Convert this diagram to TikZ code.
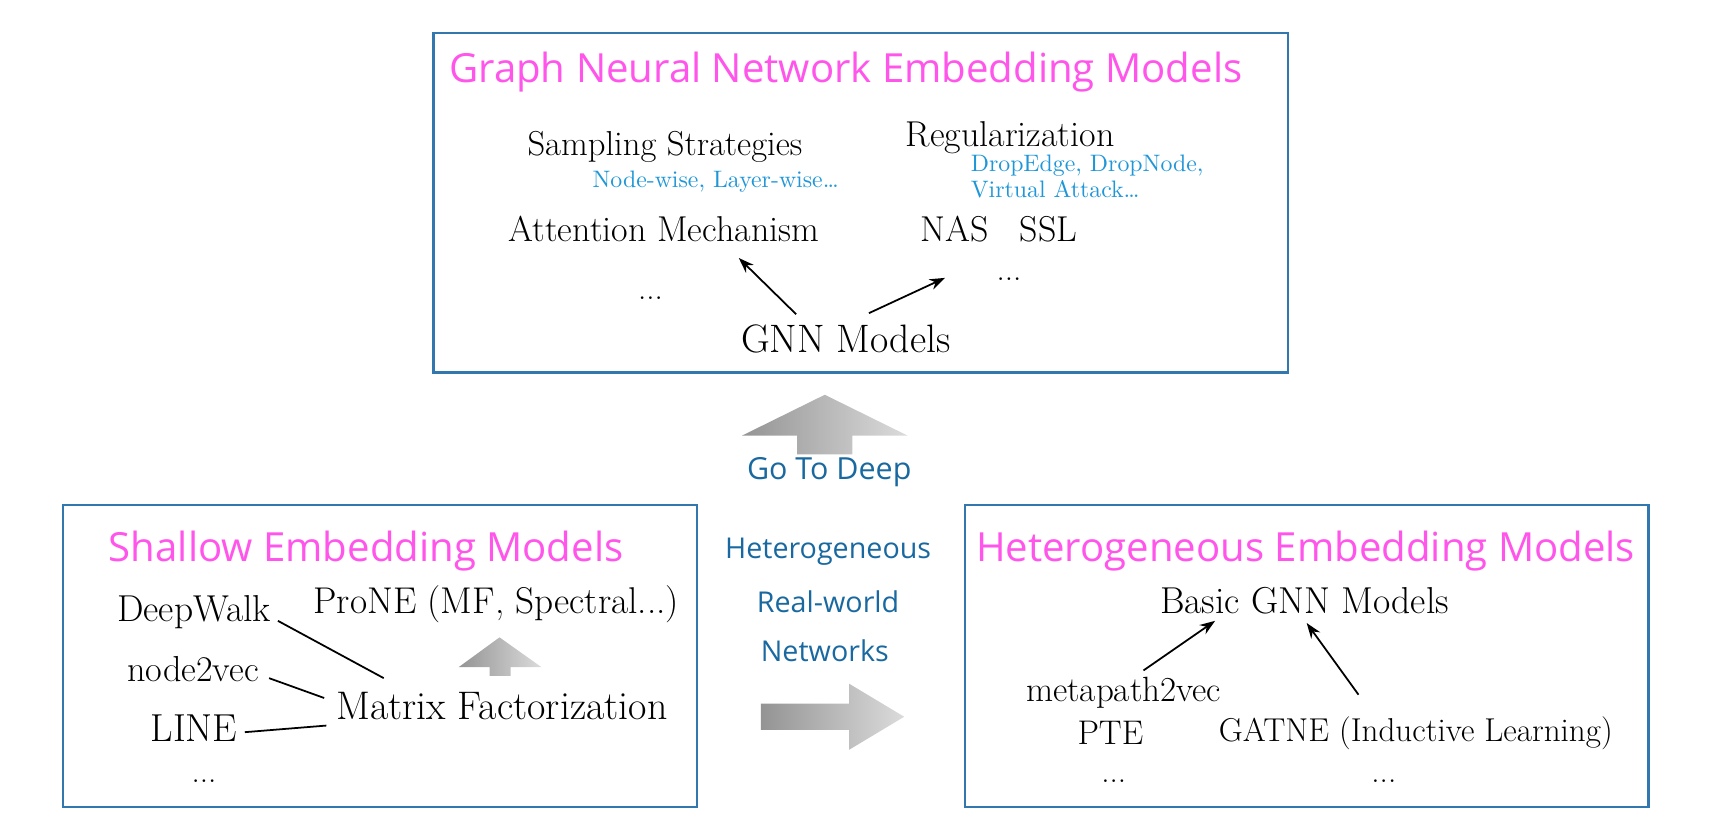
\documentclass[tikz,border=0pt]{standalone}
\usepackage{fontspec}
\newfontfamily\titlefont{Open Sans}
\usetikzlibrary{arrows.meta}
\definecolor{pinkt}{RGB}{255,85,235}
\definecolor{cyant}{RGB}{30,150,215}
\definecolor{darkb}{RGB}{25,105,160}
\definecolor{boxb}{RGB}{50,120,175}
\tikzset{
  panel/.style={draw=boxb, line width=1.2pt},
  ttl/.style={font=\titlefont\fontsize{18.2}{22}\selectfont, text=pinkt, inner sep=0pt},
  txt/.style={font=\fontsize{15}{18}\selectfont, inner sep=0pt},
  fs/.style={font=\fontsize{#1}{#1}\selectfont},
  sub/.style={font=\fontsize{10.8}{12.5}\selectfont, text=cyant, inner sep=0pt},
  mid/.style={font=\titlefont\fontsize{13}{15}\selectfont, text=darkb, inner sep=0pt},
  arr/.style={-{Stealth[length=7pt,width=5pt]}, line width=0.8pt},
  lnk/.style={line width=0.8pt},
  grad/.style={left color=black!42, right color=black!14, draw=none}
}
\begin{document}
\begin{tikzpicture}[x=0.5pt,y=-0.5pt]
\useasboundingbox (0,0) rectangle (1568,759);
% panels
\draw[panel] (393,30) rectangle (1168,338);
\draw[panel] (57,458) rectangle (632,732);
\draw[panel] (875,458) rectangle (1495,732);
% top panel
\node[ttl] (t1) at (767,65) {Graph Neural Network Embedding Models};
\node[txt, fs=15.7] (samp) at (603,133) {Sampling Strategies};
\node[sub] (nw) at (649,165) {Node-wise, Layer-wise\dots};
\node[txt, fs=16.3] (reg) at (916,125) {Regularization};
\node[sub, anchor=west] (de) at (880,150) {DropEdge, DropNode,};
\node[sub, anchor=west] (va) at (880,172) {Virtual Attack\dots};
\node[txt, fs=16.3] (attn) at (602,208) {Attention Mechanism};
\node[txt, fs=16.3] (nas) at (866,208) {NAS};
\node[txt, fs=16.3] (ssl) at (951,208) {SSL};
\node[txt] (d1) at (590,270) {...};
\node[txt] (d2) at (915,253) {...};
\node[txt, fs=18] (gnn) at (767,307) {GNN Models};
\coordinate (a1s) at (722,285); \coordinate (a1e) at (670,234);
\coordinate (a2s) at (788,284); \coordinate (a2e) at (857,252);
\draw[arr] (a1s) -- (a1e);
\draw[arr] (a2s) -- (a2e);
% big up arrow
\shade[grad] (723,412) -- (723,395) -- (673,395) -- (748,358) -- (823,395) -- (773,395) -- (773,412) -- cycle;
\node[mid, font=\titlefont\fontsize{13.8}{15}\selectfont] (deep) at (752,428) {Go To Deep};
% middle text
\node[mid] (het) at (751,500) {Heterogeneous};
\node[mid] (rw) at (751,546) {Real-world};
\node[mid] (nets) at (748,590) {Networks};
% right arrow
\shade[grad] (690,638) -- (770,638) -- (770,620) -- (820,650) -- (770,680) -- (770,662) -- (690,662) -- cycle;
% bottom-left panel
\node[ttl] (t2) at (332,500) {Shallow Embedding Models};
\node[txt, fs=17] (dw) at (176,555) {DeepWalk};
\node[txt, fs=16.9] (prone) at (450,548) {ProNE (MF, Spectral...)};
\node[txt, fs=16.4] (n2v) at (175,607) {node2vec};
\node[txt, fs=18.1] (mf) at (455,640) {Matrix Factorization};
\node[txt, fs=17.7] (line) at (176,660) {LINE};
\node[txt] (d3) at (185,708) {...};
\shade[grad] (444,613) -- (444,605) -- (416,605) -- (453,578) -- (491,605) -- (463,605) -- (463,613) -- cycle;
\coordinate (l1s) at (252,563); \coordinate (l1e) at (348,615);
\coordinate (l2s) at (244,615); \coordinate (l2e) at (294,633);
\coordinate (l3s) at (222,664); \coordinate (l3e) at (296,658);
\draw[lnk] (l1s) -- (l1e);
\draw[lnk] (l2s) -- (l2e);
\draw[lnk] (l3s) -- (l3e);
% bottom-right panel
\node[ttl] (t3) at (1184,500) {Heterogeneous Embedding Models};
\node[txt, fs=17] (bgnn) at (1183,545) {Basic GNN Models};
\node[txt, fs=15.9] (mp) at (1019,628) {metapath2vec};
\node[txt, fs=15.5] (pte) at (1007,665) {PTE};
\node[txt] (gatne) at (1284,665) {GATNE (Inductive Learning)};
\node[txt] (d4) at (1010,708) {...};
\node[txt] (d5) at (1255,708) {...};
\coordinate (a3s) at (1037,608); \coordinate (a3e) at (1102,563);
\coordinate (a4s) at (1232,630); \coordinate (a4e) at (1185,565);
\draw[arr] (a3s) -- (a3e);
\draw[arr] (a4s) -- (a4e);
\end{tikzpicture}
\end{document}
